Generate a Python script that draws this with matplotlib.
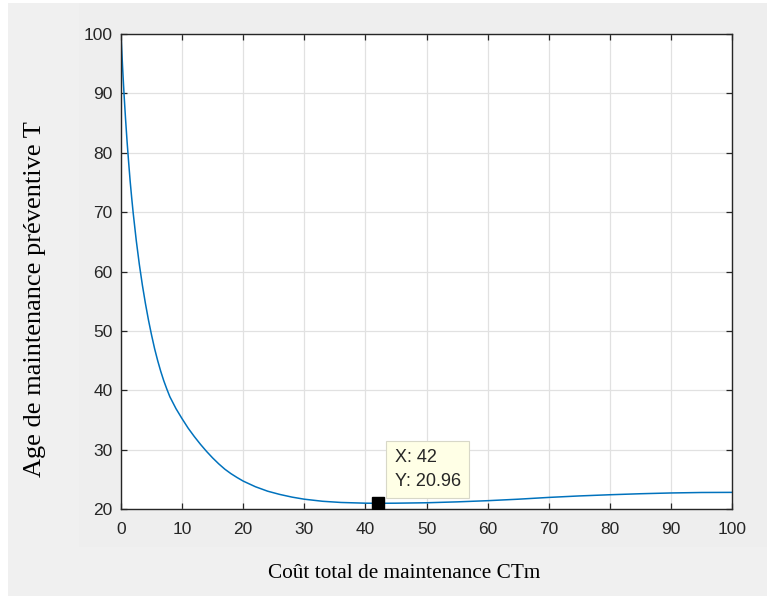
import matplotlib

matplotlib.use("Agg")
import matplotlib.pyplot as plt
from matplotlib.patches import Rectangle

# values
cout = [0, 0.25, 0.5, 0.75, 1, 1.25, 1.5, 1.75, 2, 2.5, 3, 3.5, 4, 4.5, 5, 5.5, 6, 6.5,
        7, 7.5, 8, 9, 10, 11, 12, 13, 14, 15, 16, 17, 18, 19, 20, 22, 24, 26, 28, 30,
        33, 36, 40, 42, 45, 50, 55, 60, 65, 70, 75, 80, 85, 90, 95, 100]
age = [100, 94.6, 89.8, 85.6, 81.8, 78.4, 75.2, 72.4, 69.8, 65.2, 61.2, 57.7, 54.6,
       51.8, 49.3, 47.0, 45.0, 43.2, 41.6, 40.2, 38.9, 36.9, 35.2, 33.6, 32.2, 30.9,
       29.7, 28.6, 27.6, 26.7, 25.95, 25.3, 24.7, 23.75, 23.0, 22.45, 22.0, 21.65,
       21.3, 21.1, 20.98, 20.96, 20.98, 21.05, 21.2, 21.4, 21.65, 21.95, 22.2, 22.4,
       22.57, 22.7, 22.78, 22.8]
tip_x = 42
tip_y = 20.96
xticks = list(range(0, 101, 10))
yticks = list(range(20, 101, 10))

W, H = 767, 597
fig = plt.figure(figsize=(W / 100, H / 100), dpi=100, facecolor="white")

# grey background panels like the MATLAB figure window
fig.add_artist(Rectangle((8 / W, 1 - 596 / H), (W - 8) / W, 593 / H,
                         transform=fig.transFigure, facecolor="#f0f0f0", edgecolor="none", zorder=0))
fig.add_artist(Rectangle((79 / W, 1 - 547 / H), (W - 79) / W, 544 / H,
                         transform=fig.transFigure, facecolor="#eeeeee", edgecolor="none", zorder=0))

ax = fig.add_axes([121 / W, 1 - 509 / H, (732 - 121) / W, (509 - 34) / H])
ax.set_facecolor("white")

ax.plot(cout, age, color="#0072BD", linewidth=1.1)
ax.plot([tip_x], [tip_y], marker="s", markersize=9, color="black",
        markeredgecolor="black", linestyle="none", zorder=5)

# data tip
ax.annotate(f"X: {tip_x}\nY: {tip_y}", xy=(tip_x, tip_y), xytext=(17, 13),
            textcoords="offset pixels", ha="left", va="bottom",
            fontsize=13, family="Liberation Sans", color="#262626", linespacing=1.55,
            bbox=dict(boxstyle="square,pad=0.45", facecolor="#ffffe6", edgecolor="#d8d8c8", linewidth=0.8),
            zorder=6)

ax.set_xlim(0, 100)
ax.set_ylim(20, 100)
ax.set_xticks(xticks)
ax.set_yticks(yticks)
ax.grid(True, color="#e1e1e1", linewidth=0.9)
ax.set_axisbelow(True)
ax.tick_params(direction="in", length=4.5, width=0.9, color="#262626",
               top=True, right=True, labelsize=12.5, labelcolor="#262626")
ax.tick_params(axis="x", pad=9)
ax.tick_params(axis="y", pad=6)
for lab in ax.get_xticklabels() + ax.get_yticklabels():
    lab.set_family("Liberation Sans")
for s in ax.spines.values():
    s.set_color("#262626")
    s.set_linewidth(1.0)

fig.text(404 / W, 1 - 573 / H, "Coût total de maintenance CTm", ha="center", va="center",
         family="Liberation Serif", fontsize=15.3, color="black")
fig.text(35 / W, 1 - 299 / H, "Age de maintenance préventive T", ha="center", va="center",
         rotation=90, family="Liberation Serif", fontsize=19, color="black")

fig.savefig("out.png", dpi=100, facecolor=fig.get_facecolor())
